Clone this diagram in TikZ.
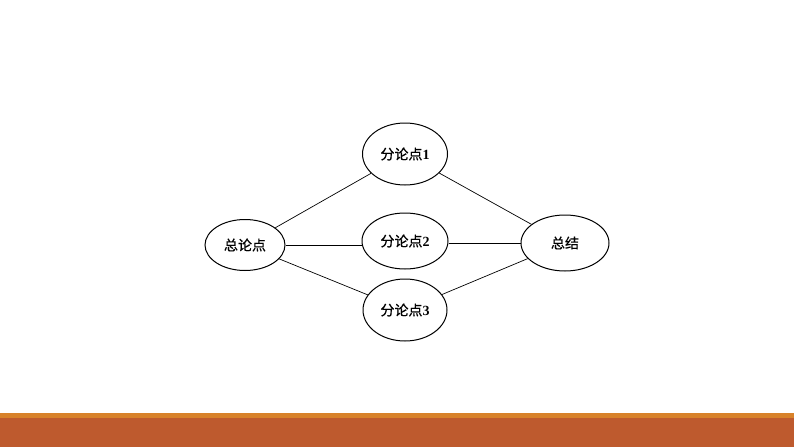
\documentclass[tikz,border=0pt]{standalone}
\usepackage{fontspec}
\newfontfamily\cjk{Noto Sans CJK SC}[FakeBold=0.6]
\newfontfamily\numf{Liberation Serif}
\usetikzlibrary{shapes.geometric}
\definecolor{barmain}{HTML}{BE5A2E}
\definecolor{barstripe}{HTML}{D8822A}
\tikzset{
  bubble/.style={draw=black, line width=1pt, ellipse, inner sep=0pt, font=\cjk\fontsize{14}{15}\selectfont},
  link/.style={draw=black, line width=0.7pt}
}
\begin{document}
\begin{tikzpicture}[x=1pt,y=-1pt]
\useasboundingbox (0,0) rectangle (794,447);
\fill[white] (0,0) rectangle (794,447);
\fill[barstripe] (0,413) rectangle (794,417.5);
\fill[barmain] (0,417.5) rectangle (794,447);
\node[bubble, minimum width=80pt, minimum height=51pt] (z) at (245,245) {总论点};
\node[bubble, minimum width=85pt, minimum height=62pt] (f1) at (405,154) {分论点{\numf\bfseries 1}};
\node[bubble, minimum width=86pt, minimum height=56pt] (f2) at (405,241) {分论点{\numf\bfseries 2}};
\node[bubble, minimum width=84pt, minimum height=62pt] (f3) at (405,310) {分论点{\numf\bfseries 3}};
\node[bubble, minimum width=88pt, minimum height=56pt] (s) at (565,243) {总结};
\coordinate (f2in) at (f2.west |- z.east);
\coordinate (f2out) at ([yshift=-2pt]f2.east);
\coordinate (sin) at (s.west |- f2out);
\draw[link] (z) -- (f1);
\draw[link] (z.east) -- (f2in);
\draw[link] (z) -- (f3);
\draw[link] (f1) -- (s);
\draw[link] (f2out) -- (sin);
\draw[link] (f3) -- (s);
\end{tikzpicture}
\end{document}
